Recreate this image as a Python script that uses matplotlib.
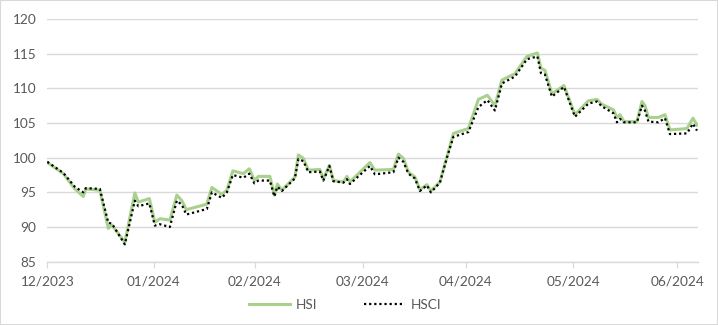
import matplotlib
matplotlib.use("Agg")
import matplotlib.pyplot as plt
from matplotlib.patches import Rectangle

plt.rcParams['font.family'] = ['Lato', 'DejaVu Sans']

# trading-day position of each vertex (0 = start of 12/2023)
day = [0, 3.2, 5.5, 7.2, 7.7, 10.5, 12.2, 12.9, 15.5, 17.5, 18.2, 20.4, 21.5, 22.5, 24.5,
       25.9, 26.9, 27.8, 31.9, 32.9, 34.9, 35.9, 37.1, 39.2, 40.4, 41.4, 42.2, 44.5, 45.4,
       46.0, 46.9, 49.5, 50.2, 51.2, 52.2, 54.5, 55.2, 56.4, 57.2, 59.2, 59.9, 60.5, 64.5,
       65.5, 69.2, 70.2, 71.2, 72.2, 73.5, 74.5, 75.9, 76.7, 78.5, 79.9, 81.2, 84.2, 86.2,
       88.0, 89.5, 90.9, 93.5, 95.9, 98.0, 98.7, 99.5, 100.9, 103.3, 105.5, 108.2, 109.9,
       110.9, 113.2, 113.9, 114.5, 115.3, 117.9, 118.9, 119.5, 120.2, 122.2, 123.5, 124.5,
       127.9, 129.1, 129.9]

hsi = [99.3, 97.7, 95.5, 94.4, 95.5, 95.3, 89.8, 90.3, 87.8, 94.9, 93.6, 94.1, 90.7, 91.2, 91.0,
       94.6, 93.8, 92.5, 93.3, 95.7, 94.7, 95.3, 98.1, 97.7, 98.4, 96.7, 97.3, 97.3, 94.6,
       96.2, 95.3, 97.2, 100.4, 99.9, 98.2, 98.3, 96.9, 98.9, 96.7, 96.5, 97.3, 96.5, 99.3,
       98.2, 98.3, 100.5, 99.9, 97.9, 97.2, 95.4, 96.1, 95.2, 96.5, 100.1, 103.5, 104.2, 108.4,
       109.0, 107.5, 111.2, 112.1, 114.6, 115.1, 112.9, 112.6, 109.2, 110.4, 106.2, 108.2, 108.4,
       107.7, 106.9, 105.8, 106.2, 105.2, 105.2, 108.1, 107.5, 105.8, 105.8, 106.2, 104.0,
       104.2, 105.7, 104.7]

hsci = [99.4, 97.8, 95.8, 95.0, 95.6, 95.5, 90.6, 90.5, 87.5, 93.8, 93.0, 93.4, 90.2, 90.4, 90.0,
        93.8, 93.2, 91.8, 92.6, 95.0, 94.2, 95.0, 97.5, 97.1, 97.7, 96.3, 96.7, 96.7, 94.4,
        95.8, 95.2, 97.0, 99.8, 99.5, 97.9, 98.0, 96.7, 98.8, 96.6, 96.4, 96.9, 96.2, 98.8,
        97.6, 97.9, 100.0, 99.4, 97.7, 97.0, 95.2, 96.0, 95.0, 96.4, 100.0, 103.0, 103.7, 107.3,
        108.3, 106.8, 110.7, 111.7, 114.2, 114.6, 112.2, 112.0, 108.8, 110.2, 105.9, 107.8, 108.1,
        107.4, 106.4, 105.1, 105.6, 105.1, 105.1, 107.5, 106.8, 105.2, 105.1, 105.7, 103.4,
        103.5, 104.9, 103.9]

month_labels = ['12/2023', '01/2024', '02/2024', '03/2024', '04/2024', '05/2024', '06/2024']
month_pos = [0, 21.3, 41.5, 63.1, 83.7, 105.2, 126.0]
y_ticks = [85, 90, 95, 100, 105, 110, 115, 120]

fig = plt.figure(figsize=(7.18, 3.25), dpi=100)
ax = fig.add_axes([0.0659, 0.1948, 0.9062, 0.7468])

ax.plot(day, hsi, color='#a9d18e', lw=2.2, label='HSI', solid_joinstyle='round', zorder=3)
ax.plot(day, hsci, color='black', lw=1.6, linestyle=(0, (1, 1.3)), label='HSCI', zorder=4)

ax.set_ylim(85, 120)
ax.set_xlim(0, 130.1)
ax.set_yticks(y_ticks)
ax.set_xticks(month_pos)
ax.set_xticklabels(month_labels)
ax.grid(axis='y', color='#d9d9d9', lw=1.0)
ax.set_axisbelow(True)
for s in ['top', 'right', 'left']:
    ax.spines[s].set_visible(False)
ax.spines['bottom'].set_color('#d9d9d9')
ax.spines['bottom'].set_linewidth(1.0)
ax.tick_params(axis='y', length=0, pad=8, labelsize=9.8, labelcolor='#595959')
ax.tick_params(axis='x', length=4, color='#d9d9d9', pad=6, labelsize=9.8, labelcolor='#595959')

fig.legend(loc='center', bbox_to_anchor=(0.481, 0.062), ncol=2, frameon=False,
           fontsize=9.8, handlelength=3.0, columnspacing=3.4, handletextpad=0.45,
           labelcolor='#595959')

fig.patches.append(Rectangle((0, 0), 1, 1, transform=fig.transFigure, fill=False,
                             edgecolor='#d9d9d9', lw=1.5))

fig.savefig('out.png', dpi=100)
